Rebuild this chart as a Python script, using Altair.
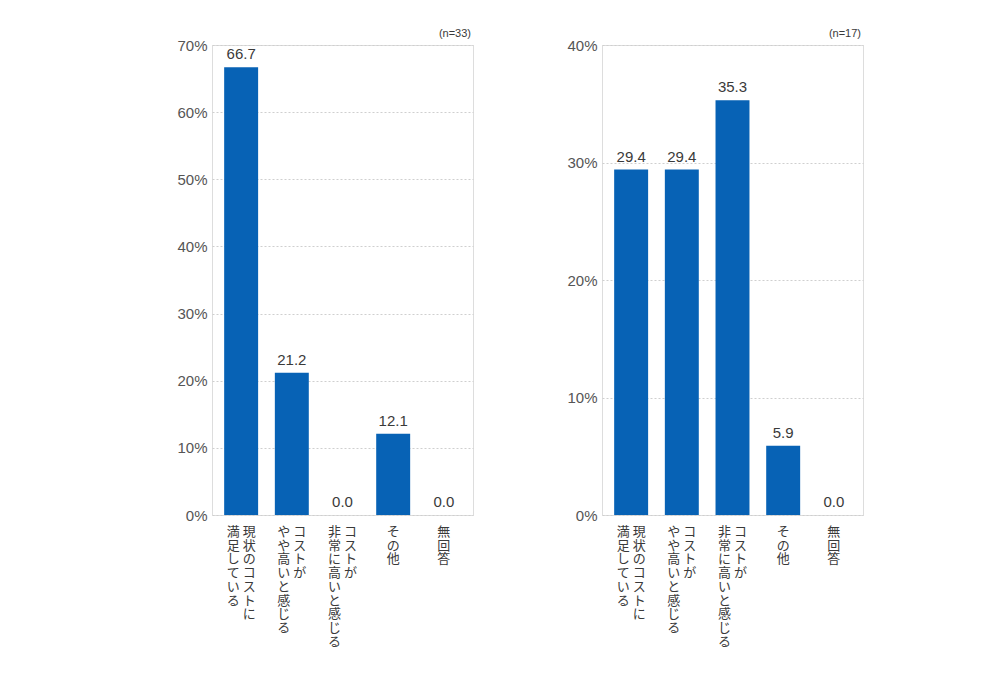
import altair as alt
import pandas as pd

categories = ["現状のコストに満足している", "コストがやや高いと感じる", "コストが非常に高いと感じる", "その他", "無回答"]
label_col1 = ["現状のコストに", "コストが", "コストが", "その他", "無回答"]
label_col2 = ["満足している", "やや高いと感じる", "非常に高いと感じる", "", ""]
values_left = [66.7, 21.2, 0.0, 12.1, 0.0]
values_right = [29.4, 29.4, 35.3, 5.9, 0.0]
n_left = "(n=33)"
n_right = "(n=17)"
ymax_left = 70
ymax_right = 40

BLUE = "#0762B5"
TXT = "#3a3a3a"
AX = "#555555"
NUMFONT = "Liberation Sans"
JPFONT = "Noto Sans CJK JP"
W = 261
H = 470


def panel(values, ymax, n_text):
    df = pd.DataFrame({
        "cat": categories,
        "val": values,
        "c1": ["\n".join(s) for s in label_col1],
        "c2": ["\n".join(s) for s in label_col2],
        "two": [len(s) > 0 for s in label_col2],
    })
    x = alt.X("cat:N", sort=categories,
              scale=alt.Scale(paddingInner=0.33, paddingOuter=0.24), axis=None)
    base = alt.Chart(df).encode(x=x)
    bars = base.mark_bar(color=BLUE).encode(
        y=alt.Y("val:Q", scale=alt.Scale(domain=[0, ymax], nice=False),
                axis=alt.Axis(values=list(range(0, ymax + 1, 10)),
                              labelExpr="datum.value + '%'",
                              grid=True, gridDash=[2, 2], gridColor="#cfcfcf",
                              domain=False, ticks=False, labelFontSize=15,
                              labelColor=AX, labelFont=NUMFONT, labelPadding=5,
                              title=None))
    )
    vals = base.mark_text(baseline="bottom", dy=-5, font=NUMFONT, fontSize=15,
                          color=TXT).encode(
        y="val:Q", text=alt.Text("val:Q", format=".1f"))
    txt_kw = dict(baseline="top", align="center", font=JPFONT, fontSize=13,
                  lineHeight=13.7, lineBreak="\n", color=TXT)
    col_r = base.transform_filter("datum.two").mark_text(dx=8, **txt_kw).encode(
        y=alt.value(H + 11), text="c1:N")
    col_l = base.transform_filter("datum.two").mark_text(dx=-8, **txt_kw).encode(
        y=alt.value(H + 11), text="c2:N")
    col_s = base.transform_filter("!datum.two").mark_text(dx=0, **txt_kw).encode(
        y=alt.value(H + 11), text="c1:N")
    ntext = alt.Chart(pd.DataFrame({"t": [n_text]})).mark_text(
        align="right", baseline="middle", fontSize=11, font=NUMFONT, color=TXT
    ).encode(x=alt.value(W - 2), y=alt.value(-11), text="t:N")
    return alt.layer(bars, vals, col_r, col_l, col_s, ntext).properties(width=W, height=H)


left = panel(values_left, ymax_left, n_left)
right = panel(values_right, ymax_right, n_right)

chart = alt.hconcat(left, right, spacing=129, bounds="flush").properties(
    padding={"left": 168, "top": 19, "right": 10, "bottom": 5}
).configure_view(stroke="#9a9a9a", strokeWidth=1).configure(background="white")

chart.save("out.html", embed_options={"renderer": "svg", "actions": False})
